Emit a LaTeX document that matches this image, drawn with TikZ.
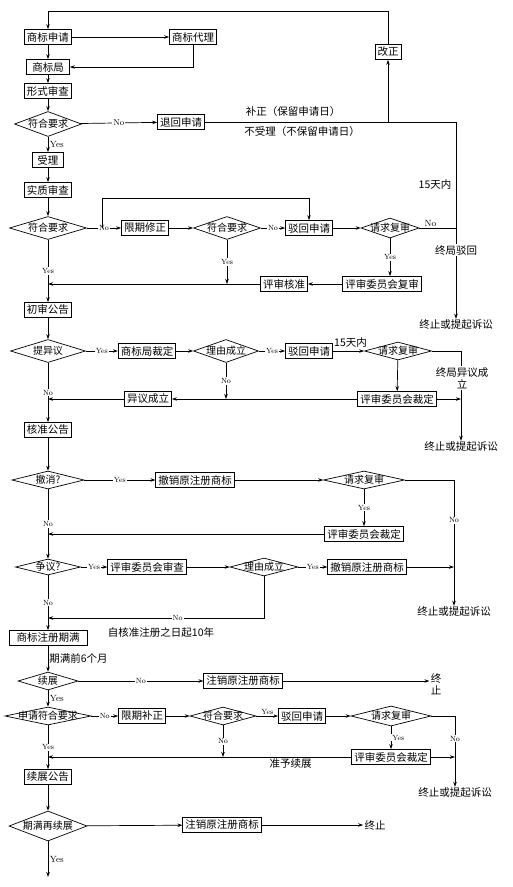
\documentclass[tikz,border=0pt]{standalone}
\usepackage{fontspec}
\newfontfamily\cjkfont{Noto Sans CJK SC}
\usetikzlibrary{shapes.geometric,arrows.meta}

\begin{document}
\begin{tikzpicture}[
  x=1pt, y=-1pt, line width=0.7pt, >={Stealth[length=5pt,width=3.5pt]},
  box/.style={draw,font=\cjkfont\fontsize{10.5}{12}\selectfont,inner xsep=2.5pt,inner ysep=1.5pt,minimum height=15pt},
  dec/.style={diamond,draw,inner sep=0pt,font=\cjkfont\fontsize{10}{12}\selectfont,execute at begin node={\hbox to 0pt\bgroup\hss},execute at end node={\hss\egroup}},
  txt/.style={font=\cjkfont\fontsize{10.5}{12}\selectfont,inner sep=1pt},
  lab/.style={font=\fontsize{7.5}{8}\selectfont,fill=white,inner sep=1pt},
  blab/.style={font=\fontsize{9}{10}\selectfont,inner sep=1.5pt}
]
  \useasboundingbox (0,0) rectangle (512,887);
  % filing
  \node[box] (apply) at (48,37) {商标申请};
  \node[box] (agent) at (193,37) {商标代理};
  \node[box,minimum width=43pt] (office) at (48,67) {商标局};
  \node[box] (formal) at (48,91) {形式审查};
  \node[dec,minimum width=67pt,minimum height=25pt] (chk1) at (48,124) {符合要求};
  \node[box] (ret) at (181,122) {退回申请};
  \node[box] (fix) at (388,52) {改正};
  \node[txt] (end1) at (456,325) {终止或提起诉讼};
  \coordinate (top) at (48,11);
  \coordinate (c0) at (388,122);
  \coordinate (c1) at (456,122);
  % substantive examination
  \node[box,minimum width=31pt] (accept) at (48,160) {受理};
  \node[box] (subst) at (48,190) {实质审查};
  \node[dec,minimum width=77pt,minimum height=23pt] (chk2) at (48,228) {符合要求};
  \node[box] (limfix) at (145,228) {限期修正};
  \node[dec,minimum width=67pt,minimum height=23pt] (chk3) at (227,228) {符合要求};
  \node[box] (rej1) at (309,228) {驳回申请};
  \node[dec,minimum width=58pt,minimum height=20pt] (rev1) at (390,228) {请求复审};
  \node[box] (appr) at (284,284) {评审核准};
  \node[box] (board1) at (382,284) {评审委员会复审};
  \coordinate (n2) at (102,228);
  \coordinate (loop2) at (102,198);
  % opposition
  \node[box] (prelim) at (48,310) {初审公告};
  \node[dec,minimum width=75pt,minimum height=23pt] (oppose) at (48,351) {提异议};
  \node[box] (ruling) at (147,351) {商标局裁定};
  \node[dec,minimum width=65pt,minimum height=23pt] (reason1) at (226,351) {理由成立};
  \node[box] (rej2) at (309,351) {驳回申请};
  \node[dec,minimum width=67pt,minimum height=18pt] (rev2) at (398,351) {请求复审};
  \node[box] (board2) at (397,399) {评审委员会裁定};
  \node[box] (oppok) at (148,399) {异议成立};
  \node[txt] (end2) at (461,447) {终止或提起诉讼};
  \node[box] (approve) at (48,430) {核准公告};
  % revocation and dispute
  \node[dec,minimum width=72pt,minimum height=18pt] (revoke) at (48,480) {撤消?};
  \node[box] (cancel1) at (195,480) {撤销原注册商标};
  \node[dec,minimum width=81pt,minimum height=18pt] (rev3) at (364,480) {请求复审};
  \node[box] (board3) at (364,534) {评审委员会裁定};
  \node[txt] (end3) at (454,612) {终止或提起诉讼};
  \node[dec,minimum width=65pt,minimum height=16pt] (dispute) at (48,567) {争议?};
  \node[box] (review) at (147,567) {评审委员会审查};
  \node[dec,minimum width=68pt,minimum height=18pt] (reason2) at (264,567) {理由成立};
  \node[box] (cancel2) at (367,567) {撤销原注册商标};
  \coordinate (j5) at (48,618);
  % renewal
  \node[box,minimum width=78pt] (expire) at (48,638) {商标注册期满};
  \node[dec,minimum width=60pt,minimum height=18pt] (renew) at (48,681) {续展};
  \node[box] (revoke2) at (243,681) {注销原注册商标};
  \node[txt,align=center] (stop1) at (436,684) {终\\止};
  \node[dec,minimum width=86pt,minimum height=18pt] (renapp) at (48,716) {申请符合要求};
  \node[box] (limfix2) at (142,716) {限期补正};
  \node[dec,minimum width=66pt,minimum height=18pt] (chk4) at (223,716) {符合要求};
  \node[box] (rej3) at (302,716) {驳回申请};
  \node[dec,minimum width=80pt,minimum height=20pt] (rev4) at (391,716) {请求复审};
  \node[box] (board4) at (391,757) {评审委员会裁定};
  \node[txt] (end4) at (455,793) {终止或提起诉讼};
  \node[box] (renpub) at (48,777) {续展公告};
  \node[dec,minimum width=78pt,minimum height=30pt] (again) at (48,826) {期满再续展};
  \node[box] (revoke3) at (222,825) {注销原注册商标};
  \node[txt] (stop2) at (375,825) {终止};
  \coordinate (bot) at (48,877);

  \draw[->] (fix.north) |- (top) -- (apply.north);
  \draw[->] (apply) -- (agent);
  \draw[->] (agent.south) |- (office.east);
  \draw[->] (apply) -- (office);
  \draw[->] (office) -- (formal);
  \draw[->] (formal) -- (chk1);
  \draw[->] (chk1) -- node[lab,font=\fontsize{8.5}{9}\selectfont]{No} (ret);
  \draw (ret) -- (c1);
  \draw[->] (c0) -- (fix);
  \draw[->] (c1) -- (end1);
  \draw[->] (chk1) -- node[blab,right]{Yes} (accept);
  \node[txt] at (293,112) {补正（保留申请日）};
  \node[txt] at (302,132) {不受理（不保留申请日）};

  \draw[->] (accept) -- (subst);
  \draw[->] (subst) -- (chk2);
  \draw[->] (chk2) -- node[lab]{No} (limfix);
  \draw[->] (n2) -- (loop2) -| (rej1);
  \draw[->] (limfix) -- (chk3);
  \draw[->] (chk3) -- node[lab]{No} (rej1);
  \draw[->] (rej1) -- (rev1);
  \draw (rev1) -- node[blab,above,pos=0.3]{No} (rev1 -| c1);
  \draw[->] (rev1) -- node[lab]{Yes} (rev1 |- board1.north);
  \draw[->] (board1) -- (appr);
  \draw[->] (chk3) -- node[lab]{Yes} (chk3 |- appr);
  \draw[->] (appr) -- (appr -| apply);
  \draw[->] (chk2) -- node[lab]{Yes} (prelim);
  \node[txt] at (435,185) {15天内};
  \node[txt,fill=white] at (456,250) {终局驳回};

  \draw[->] (prelim) -- (oppose);
  \draw[->] (oppose) -- node[lab]{Yes} (ruling);
  \draw[->] (ruling) -- (reason1);
  \draw[->] (reason1) -- node[lab]{Yes} (rej2);
  \draw[->] (rej2) -- node[txt,above,xshift=2pt,yshift=2pt]{15天内} (rev2);
  \draw[->] (rev2) -| (end2);
  \draw[->] (rev2) -- (board2);
  \draw[->] (board2) -- (board2 -| end2);
  \draw[->] (board2) -- (oppok);
  \draw[->] (reason1) -- node[lab]{No} (reason1 |- oppok);
  \draw[->] (oppok) -- (oppok -| approve);
  \draw[->] (oppose) -- node[lab]{No} (approve);
  \node[txt,fill=white,align=center] at (462,378) {终局异议成\\立};

  \draw[->] (approve) -- (revoke);
  \draw[->] (revoke) -- node[lab]{Yes} (cancel1);
  \draw[->] (cancel1) -- (rev3);
  \draw[->] (rev3) -| node[lab,pos=0.66]{No} (end3);
  \draw[->] (rev3) -- node[lab]{Yes} (board3);
  \draw[->] (board3) -- (board3 -| revoke);
  \draw[->] (revoke) -- node[lab]{No} (dispute);
  \draw[->] (dispute) -- node[lab]{Yes} (review);
  \draw[->] (review) -- (reason2);
  \draw[->] (reason2) -- node[lab]{Yes} (cancel2);
  \draw[->] (cancel2) -- (cancel2 -| end3);
  \draw[->] (reason2) |- node[lab,pos=0.7]{No} (j5);
  \draw[->] (dispute) -- node[lab]{No} (expire);

  \node[txt] at (161,633) {自核准注册之日起10年};
  \draw[->] (expire) -- node[txt,right]{期满前6个月} (renew);
  \draw[->] (renew) -- node[lab]{No} (revoke2);
  \draw[->] (revoke2) -- (revoke2 -| stop1.west);
  \draw[->] (renew) -- node[blab,right]{Yes} (renapp);
  \draw[->] (renapp) -- node[lab]{No} (limfix2);
  \draw[->] (limfix2) -- (chk4);
  \draw[->] (chk4) -- node[lab,above]{Yes} (rej3);
  \draw[->] (rej3) -- (rev4);
  \draw[->] (rev4) -| node[lab,pos=0.66]{No} (end4);
  \draw[->] (rev4) -- node[lab,right]{Yes} (board4);
  \draw[->] (board4) -- (board4 -| end4);
  \draw[->] (board4) -- node[txt,below,pos=0.2]{准予续展} (board4 -| renapp);
  \draw[->] (chk4) -- node[lab]{No} (chk4 |- board4);
  \draw[->] (renapp) -- node[lab]{Yes} (renpub);
  \draw[->] (renpub) -- (again);
  \draw[->] (again) -- (revoke3);
  \draw[->] (revoke3) -- (stop2);
  \draw[->] (again) -- node[blab,right]{Yes} (bot);
\end{tikzpicture}
\end{document}
